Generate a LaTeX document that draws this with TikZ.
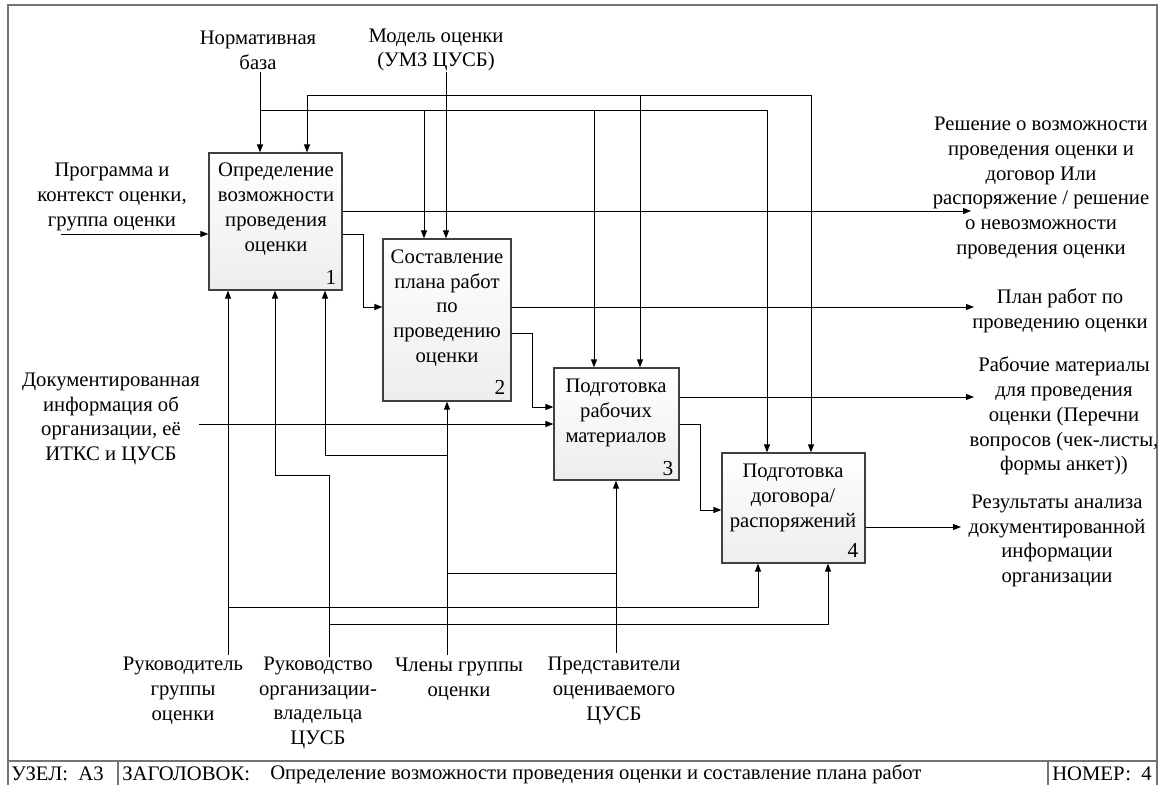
\documentclass[tikz,border=0pt]{standalone}
\usepackage{fontspec}
\setmainfont{Liberation Serif}
\newfontfamily\lserif{Liberation Serif}
\usetikzlibrary{arrows.meta,fit,shadows}
\begin{document}
\begin{tikzpicture}[x=0.75pt,y=-0.75pt,
  font=\lserif\fontsize{15.5}{18.6}\selectfont,
  box/.style={draw=black!75, line width=0.9pt, top color=white, bottom color=black!7, inner sep=0pt,
    drop shadow={shadow xshift=1.1pt, shadow yshift=-1.1pt, opacity=0.35, fill=black!70}},
  lbl/.style={align=center, inner sep=0pt},
  num/.style={inner sep=0pt, font=\lserif\fontsize{16}{18}\selectfont},
  ln/.style={draw=black, line width=0.75pt},
  arr/.style={ln, -{Triangle[length=6pt,width=4.5pt]}},
  frame/.style={draw=black!55, line width=1pt}]
\useasboundingbox (0,0) rectangle (1160,785);

% frame and footer
\draw[frame] (8,786) -- (8,5) -- (1157,5) -- (1157,786);
\draw[frame] (8,761) -- (1157,761);
\draw[frame] (118,761) -- (118,786);
\draw[frame] (1048,761) -- (1048,786);
\node[anchor=west, inner sep=0pt] (f1) at (11,774) {УЗЕЛ:\ \ А3};
\node[anchor=west, inner sep=0pt] (f2) at (122,774) {ЗАГОЛОВОК:};
\node[anchor=west, inner sep=0pt] (f3) at (270,774) {Определение возможности проведения оценки и составление плана работ};
\node[anchor=west, inner sep=0pt] (f4) at (1052,774) {НОМЕР:\ \ 4};

% boxes
\node[box, fit={(209,153) (342,290)}] (b1) {};
\node[box, fit={(383,239) (511,401)}] (b2) {};
\node[box, fit={(554,368) (679,480)}] (b3) {};
\node[box, fit={(722,453) (865,563)}] (b4) {};
\node[lbl] (t1) at (276,209) {Определение\\возможности\\проведения\\оценки};
\node[lbl] (t2) at (447,308) {Составление\\плана работ\\по\\проведению\\оценки};
\node[lbl] (t3) at (616,413) {Подготовка\\рабочих\\материалов};
\node[lbl] (t4) at (793,498) {Подготовка\\договора/\\распоряжений};
\node[num] (n1) at (331,277) {1};
\node[num] (n2) at (500,387) {2};
\node[num] (n3) at (668,469) {3};
\node[num] (n4) at (853,550) {4};

% labels
\node[lbl] (lnorm) at (258,50) {Нормативная\\база};
\node[lbl] (lmod) at (436,50) {Модель оценки\\(УМЗ ЦУСБ)};
\node[lbl] (lin1) at (112,197) {Программа и\\контекст оценки,\\группа оценки};
\node[lbl] (lin2) at (111,419) {Документированная\\информация об\\организации, её\\ИТКС и ЦУСБ};
\node[lbl] (lo1) at (1041,188) {Решение о возможности\\проведения оценки и\\договор Или\\распоряжение / решение\\о невозможности\\проведения оценки};
\node[lbl] (lo2) at (1060,311) {План работ по\\проведению оценки};
\node[lbl] (lo3) at (1064,416) {Рабочие материалы\\для проведения\\оценки (Перечни\\вопросов (чек-листы,\\формы анкет))};
\node[lbl] (lo4) at (1057,541) {Результаты анализа\\документированной\\информации\\организации};
\node[lbl] (lm1) at (183,691) {Руководитель\\группы\\оценки};
\node[lbl] (lm2) at (318,703) {Руководство\\организации-\\владельца\\ЦУСБ};
\node[lbl] (lm3) at (459,679) {Члены группы\\оценки};
\node[lbl] (lm4) at (614,691) {Представители\\оцениваемого\\ЦУСБ};

% controls
\coordinate (nb) at (260,72);
\coordinate (mo) at (446,72);
\coordinate (pB1) at (260,110);
\coordinate (pB2) at (424,110);
\coordinate (pB3) at (594,110);
\coordinate (pB4) at (767,110);
\coordinate (pA1) at (307,95);
\coordinate (pA3) at (640,95);
\coordinate (pA4) at (811,95);
\draw[arr] (nb) -- (nb |- b1.north);
\draw[ln] (pB1) -- (pB4);
\draw[arr] (pB2) -- (pB2 |- b2.north);
\draw[arr] (pB3) -- (pB3 |- b3.north);
\draw[arr] (pB4) -- (pB4 |- b4.north);
\draw[arr] (mo) -- (mo |- b2.north);
\draw[ln] (pA1) -- (pA4);
\draw[arr] (pA1) -- (pA1 |- b1.north);
\draw[arr] (pA3) -- (pA3 |- b3.north);
\draw[arr] (pA4) -- (pA4 |- b4.north);

% inputs / outputs
\coordinate (in1) at (61,234);
\draw[arr] (in1) -- (in1 -| b1.west);
\coordinate (o1) at (971,211);
\draw[arr] (o1 -| b1.east) -- (o1);
\coordinate (k1) at (363,307);
\draw[arr] (b1.east |- 0,234) -| (k1) -- (k1 -| b2.west);
\coordinate (o2) at (974,307);
\draw[arr] (o2 -| b2.east) -- (o2);
\coordinate (k2) at (532,407);
\draw[arr] (b2.east |- 0,333) -| (k2) -- (k2 -| b3.west);
\coordinate (in2) at (199,424);
\draw[arr] (in2) -- (in2 -| b3.west);
\coordinate (o3) at (974,397);
\draw[arr] (o3 -| b3.east) -- (o3);
\coordinate (k3) at (700,510);
\draw[arr] (b3.east |- 0,424) -| (k3) -- (k3 -| b4.west);
\coordinate (o4) at (961,527);
\draw[arr] (o4 -| b4.east) -- (o4);

% mechanisms
\coordinate (m1) at (228,655);
\draw[arr] (m1) -- (m1 |- b1.south);
\coordinate (m1b) at (228,607);
\coordinate (m1c) at (758,607);
\draw[arr] (m1b) -- (m1c) -- (m1c |- b4.south);
\coordinate (m2) at (329,657);
\coordinate (m2a) at (329,475);
\coordinate (m2b) at (275,475);
\draw[arr] (m2) -- (m2a) -- (m2b) -- (m2b |- b1.south);
\coordinate (m2c) at (329,624);
\coordinate (m2d) at (828,624);
\draw[arr] (m2c) -- (m2d) -- (m2d |- b4.south);
\coordinate (m3) at (447,655);
\draw[arr] (m3) -- (m3 |- b2.south);
\coordinate (m3a) at (447,455);
\coordinate (m3b) at (325,455);
\draw[arr] (m3a) -- (m3b) -- (m3b |- b1.south);
\coordinate (m3c) at (447,573);
\coordinate (m3d) at (616,573);
\draw[ln] (m3c) -- (m3d);
\coordinate (m4) at (616,653);
\draw[arr] (m4) -- (m4 |- b3.south);
\end{tikzpicture}
\end{document}
